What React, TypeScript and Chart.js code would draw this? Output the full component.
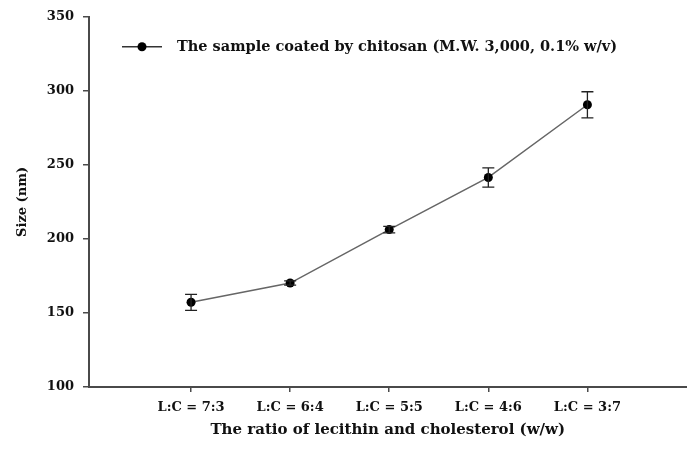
import React, { useEffect, useRef } from "react";
import { Chart, registerables } from "chart.js";

Chart.register(...registerables);

// Particle size for each lecithin:cholesterol ratio (chitosan coated)
const ratioLabels = ["L:C = 7:3", "L:C = 6:4", "L:C = 5:5", "L:C = 4:6", "L:C = 3:7"];
const sizeNm = [157.2, 170.2, 206.3, 241.5, 290.6];
const sizeErr = [5.4, 1.4, 2.2, 6.5, 8.8];
const yTicks = [100, 150, 200, 250, 300, 350];
const seriesLabel = "The sample coated by chitosan (M.W. 3,000, 0.1% w/v)";

const FONT = "'DejaVu Serif', 'Liberation Serif', serif";
const AXIS_COLOR = "#4a4a4a";

// Vertical error bars with caps, drawn from sizeErr
const errorBars = {
  id: "errorBars",
  afterDatasetsDraw(chart: any) {
    const { ctx, scales } = chart;
    const x = scales.x;
    const y = scales.y;
    ctx.save();
    ctx.strokeStyle = "#222";
    ctx.lineWidth = 1.3;
    sizeNm.forEach((v, i) => {
      const px = x.getPixelForValue(i + 1);
      const top = y.getPixelForValue(v + sizeErr[i]);
      const bot = y.getPixelForValue(v - sizeErr[i]);
      ctx.beginPath();
      ctx.moveTo(px, top);
      ctx.lineTo(px, bot);
      ctx.moveTo(px - 6, top);
      ctx.lineTo(px + 6, top);
      ctx.moveTo(px - 6, bot);
      ctx.lineTo(px + 6, bot);
      ctx.stroke();
    });
    ctx.restore();
  },
};

// Legend entry placed inside the plot area, upper left
const insideLegend = {
  id: "insideLegend",
  afterDraw(chart: any) {
    const { ctx, chartArea } = chart;
    const ly = chartArea.top + 30;
    const lx = chartArea.left + 33;
    ctx.save();
    ctx.strokeStyle = "#333";
    ctx.lineWidth = 1.5;
    ctx.beginPath();
    ctx.moveTo(lx, ly);
    ctx.lineTo(lx + 40, ly);
    ctx.stroke();
    ctx.fillStyle = "#000";
    ctx.beginPath();
    ctx.arc(lx + 20, ly, 4.5, 0, Math.PI * 2);
    ctx.fill();
    ctx.font = `bold 14.5px ${FONT}`;
    ctx.textBaseline = "middle";
    ctx.textAlign = "left";
    ctx.fillStyle = "#111";
    ctx.fillText(seriesLabel, lx + 55, ly);
    ctx.restore();
  },
};

export default function App() {
  const canvasRef = useRef<HTMLCanvasElement | null>(null);

  useEffect(() => {
    if (!canvasRef.current) return;
    const chart = new Chart(canvasRef.current, {
      type: "line",
      data: {
        datasets: [
          {
            label: seriesLabel,
            data: sizeNm.map((v, i) => ({ x: i + 1, y: v })),
            borderColor: "#666",
            borderWidth: 1.5,
            pointRadius: 4.5,
            pointBackgroundColor: "#000",
            pointBorderColor: "#000",
            pointBorderWidth: 0,
            tension: 0,
          },
        ],
      },
      options: {
        animation: false,
        responsive: false,
        layout: { padding: { top: 15, left: 0, right: 0, bottom: 0 } },
        plugins: {
          legend: { display: false },
          tooltip: { enabled: false },
        },
        scales: {
          x: {
            type: "linear",
            min: -0.03,
            max: 6,
            afterBuildTicks: (scale: any) => {
              scale.ticks = ratioLabels.map((_, i) => ({ value: i + 1 }));
            },
            afterFit: (scale: any) => {
              scale.height = 64;
            },
            border: { color: AXIS_COLOR, width: 2 },
            grid: {
              drawOnChartArea: false,
              drawTicks: true,
              tickLength: 5,
              color: AXIS_COLOR,
              lineWidth: 1.5,
            },
            ticks: {
              autoSkip: false,
              maxRotation: 0,
              padding: 8,
              color: "#111",
              font: { family: FONT, size: 13, weight: "bold" },
              callback: (v: any) => ratioLabels[Math.round(Number(v)) - 1] ?? "",
            },
            title: {
              display: true,
              text: "The ratio of lecithin and cholesterol (w/w)",
              color: "#111",
              font: { family: FONT, size: 15, weight: "bold" },
              padding: { top: 0, bottom: 12 },
            },
          },
          y: {
            min: 100,
            max: 350,
            afterBuildTicks: (scale: any) => {
              scale.ticks = yTicks.map((v) => ({ value: v }));
            },
            afterFit: (scale: any) => {
              scale.width = 89;
            },
            border: { color: AXIS_COLOR, width: 2 },
            grid: {
              drawOnChartArea: false,
              drawTicks: true,
              tickLength: 6,
              color: AXIS_COLOR,
              lineWidth: 1.5,
            },
            ticks: {
              padding: 9,
              color: "#111",
              font: { family: FONT, size: 13, weight: "bold" },
            },
            title: {
              display: true,
              text: "Size (nm)",
              color: "#111",
              font: { family: FONT, size: 13, weight: "bold" },
              padding: { top: 15, bottom: 0 },
            },
          },
        },
      },
      plugins: [errorBars, insideLegend],
    });
    return () => chart.destroy();
  }, []);

  // The canvas is a few pixels wider than the frame so the x axis runs to the right edge
  return (
    <div style={{ position: "fixed", left: 0, top: 0, width: 687, height: 451, overflow: "hidden", background: "#fff" }}>
      <canvas ref={canvasRef} width={691} height={451} style={{ display: "block" }} />
    </div>
  );
}
